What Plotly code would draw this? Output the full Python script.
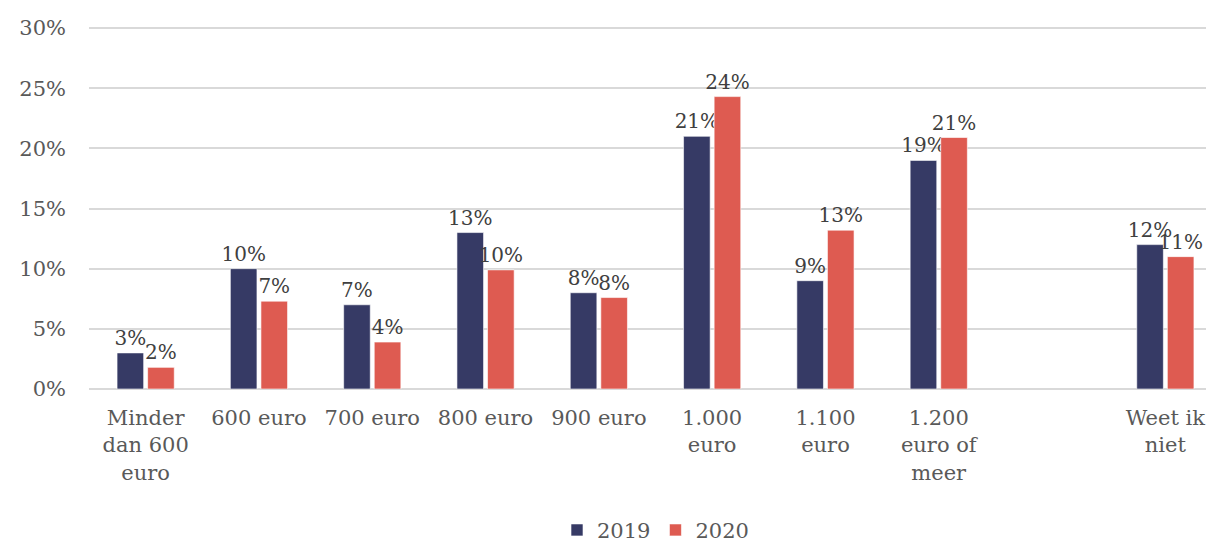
import plotly.graph_objects as go

categories = ["Minder<br>dan 600<br>euro", "600 euro", "700 euro", "800 euro", "900 euro",
              "1.000<br>euro", "1.100<br>euro", "1.200<br>euro of<br>meer", " ", "Weet ik<br>niet"]
values_2019 = [3, 10, 7, 13, 8, 21, 9, 19, None, 12]
values_2020 = [1.8, 7.3, 3.9, 9.9, 7.6, 24.3, 13.2, 20.9, None, 11]
series_names = ["2019", "2020"]
colors = ["#363A65", "#DE5B51"]
y_ticks = [0, 5, 10, 15, 20, 25, 30]
y_tick_labels = [f"{v}%" for v in y_ticks]

FONT = "DejaVu Serif"

fig = go.Figure()
for name, vals, col in zip(series_names, [values_2019, values_2020], colors):
    fig.add_trace(go.Bar(
        x=categories, y=vals, name=name,
        marker=dict(color=col, line=dict(color="rgba(255,255,255,0.6)", width=1)),
        texttemplate="%{y:.0f}%",
        textposition="outside", constraintext="none",
        cliponaxis=False,
        textfont=dict(family=FONT, size=20, color="#404040"),
    ))

fig.update_layout(
    width=1214, height=545,
    margin=dict(l=81, r=0, t=14, b=164, autoexpand=False),
    paper_bgcolor="white", plot_bgcolor="white",
    barmode="group", bargap=0.46, bargroupgap=0.13,
    font=dict(family=FONT, size=21, color="#595959"),
    legend=dict(orientation="h", x=0.5, xanchor="center", y=-0.385, yanchor="middle",
                font=dict(family=FONT, size=21, color="#595959"), itemwidth=30),
    xaxis=dict(type="category", categoryorder="array", categoryarray=categories,
               showgrid=False, showline=False, ticks="", tickangle=0, ticklabelstandoff=14,
               automargin=False, tickfont=dict(family=FONT, size=21, color="#595959")),
    yaxis=dict(range=[0, 30.5], tickmode="array", tickvals=y_ticks, ticktext=y_tick_labels,
               showgrid=True, gridcolor="#D9D9D9", gridwidth=1.5, zeroline=True,
               zerolinecolor="#D9D9D9", zerolinewidth=1.5, showline=False, ticks="",
               automargin=False, ticklabelstandoff=22,
               tickfont=dict(family=FONT, size=21, color="#595959")),
)

fig.write_html("out.html")
